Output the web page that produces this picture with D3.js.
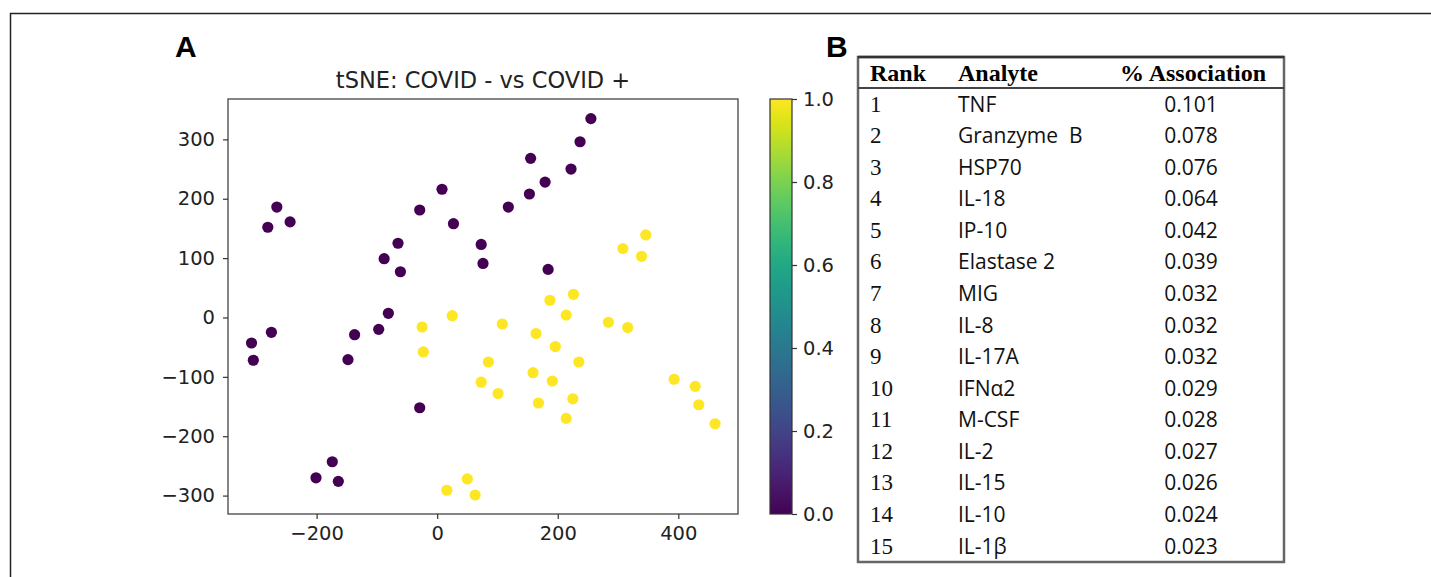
<!DOCTYPE html>
<html>
<head>
<meta charset="utf-8">
<script src="https://cdn.jsdelivr.net/npm/d3@7"></script>
<style>
  body { margin: 0; background: #fff; }
  svg { display: block; }
  .mpl { font-family: "DejaVu Sans", sans-serif; fill: #222; }
</style>
</head>
<body>
<svg id="fig" width="1431" height="577"></svg>
<script>
// tSNE coordinates
const covidNegX = [-266, -281, -244, -88, -65, -61, -29, 8, 27, 73, 76, 118,
  255, 237, 155, 222, 179, 153, 184,
  -308, -275, -305, -137, -97, -81, -148, -29, -174, -201, -164];
const covidNegY = [186, 152, 161, 99, 125, 77, 181, 216, 158, 123, 91, 186,
  335, 296, 268, 250, 228, 208, 81,
  -43, -25, -72, -29, -20, 7, -71, -152, -243, -270, -276];
const covidPosX = [346, 308, 339, 187, 226,
  -25, 25, -23, 108, 85, 73, 101, 50, 16, 63,
  214, 284, 316, 164, 196, 235, 159, 191, 225, 168, 214, 393, 428, 434, 461];
const covidPosY = [139, 116, 103, 29, 39,
  -16, 3, -58, -11, -75, -109, -128, -272, -291, -299,
  4, -8, -17, -27, -49, -75, -93, -107, -137, -144, -170, -104, -116, -147, -179];

const xTicks = [-200, 0, 200, 400];
const yTicks = [-300, -200, -100, 0, 100, 200, 300];
const cbarTicks = [0, 0.2, 0.4, 0.6, 0.8, 1.0];

const ranks = ['1', '2', '3', '4', '5', '6', '7', '8', '9', '10', '11', '12', '13', '14', '15'];
const analytes = ['TNF', 'Granzyme  B', 'HSP70', 'IL-18', 'IP-10', 'Elastase 2', 'MIG', 'IL-8',
  'IL-17A', 'IFNα2', 'M-CSF', 'IL-2', 'IL-15', 'IL-10', 'IL-1β'];
const association = ['0.101', '0.078', '0.076', '0.064', '0.042', '0.039', '0.032', '0.032',
  '0.032', '0.029', '0.028', '0.027', '0.026', '0.024', '0.023'];

const svg = d3.select('#fig');

// outer frame
svg.append('path')
  .attr('d', 'M10.5,577 V13.5 H1431')
  .attr('fill', 'none')
  .attr('stroke', '#222')
  .attr('stroke-width', 1.5);

// panel letters
svg.append('text').attr('x', 175).attr('y', 57)
  .style('font', 'bold 30px "Liberation Sans", Arial, sans-serif')
  .text('A');
svg.append('text').attr('x', 826).attr('y', 57)
  .style('font', 'bold 30px "Liberation Sans", Arial, sans-serif')
  .text('B');

// ---- panel A: scatter ----
const plot = { left: 228, right: 738, top: 99, bottom: 514 };

const x = d3.scaleLinear().domain([-347, 499]).range([plot.left, plot.right]);
const y = d3.scaleLinear().domain([-331, 368]).range([plot.bottom, plot.top]);
const color = d3.scaleSequential(d3.interpolateViridis).domain([0, 1]);

const points = covidNegX.map((d, i) => ({ x: d, y: covidNegY[i], label: 0 }))
  .concat(covidPosX.map((d, i) => ({ x: d, y: covidPosY[i], label: 1 })));

svg.append('g')
  .selectAll('circle')
  .data(points)
  .enter()
  .append('circle')
  .attr('cx', d => x(d.x))
  .attr('cy', d => y(d.y))
  .attr('r', 5.6)
  .attr('fill', d => color(d.label));

svg.append('rect')
  .attr('x', plot.left).attr('y', plot.top)
  .attr('width', plot.right - plot.left)
  .attr('height', plot.bottom - plot.top)
  .attr('fill', 'none')
  .attr('stroke', '#444')
  .attr('stroke-width', 1.3);

const styleAxis = g => {
  g.select('.domain').remove();
  g.selectAll('line').attr('stroke', '#333').attr('stroke-width', 1.2);
  g.selectAll('text')
    .style('font-family', '"DejaVu Sans", sans-serif')
    .style('font-size', '19.5px')
    .attr('fill', '#222');
};

svg.append('g')
  .attr('transform', `translate(0, ${plot.bottom})`)
  .call(d3.axisBottom(x).tickValues(xTicks).tickSize(5).tickPadding(7))
  .call(styleAxis);

svg.append('g')
  .attr('transform', `translate(${plot.left}, 0)`)
  .call(d3.axisLeft(y).tickValues(yTicks).tickSize(5).tickPadding(8))
  .call(styleAxis);

svg.append('text')
  .attr('class', 'mpl')
  .attr('x', (plot.left + plot.right) / 2)
  .attr('y', 88)
  .attr('text-anchor', 'middle')
  .style('font-size', '22.5px')
  .text('tSNE: COVID - vs COVID +');

// colorbar
const cb = { left: 770, width: 22 };
const cbY = d3.scaleLinear().domain([0, 1]).range([plot.bottom, plot.top]);

const grad = svg.append('defs').append('linearGradient')
  .attr('id', 'viridis')
  .attr('x1', 0).attr('y1', 1).attr('x2', 0).attr('y2', 0);
d3.range(0, 1.0001, 0.05).forEach(t => {
  grad.append('stop').attr('offset', t).attr('stop-color', color(t));
});

svg.append('rect')
  .attr('x', cb.left).attr('y', plot.top)
  .attr('width', cb.width).attr('height', plot.bottom - plot.top)
  .attr('fill', 'url(#viridis)')
  .attr('stroke', '#333')
  .attr('stroke-width', 1.2);

svg.append('g')
  .attr('transform', `translate(${cb.left + cb.width}, 0)`)
  .call(d3.axisRight(cbY).tickValues(cbarTicks).tickFormat(d3.format('.1f')).tickSize(5).tickPadding(6))
  .call(styleAxis);

// ---- panel B: table ----
const table = { left: 858, right: 1284, top: 57, head: 88, bottom: 562 };
const rowY = d3.scaleLinear().domain([0, 14]).range([104, 546]);

svg.append('rect')
  .attr('x', table.left).attr('y', table.top)
  .attr('width', table.right - table.left)
  .attr('height', table.bottom - table.top)
  .attr('fill', 'none')
  .attr('stroke', '#666')
  .attr('stroke-width', 2.5);
svg.append('line')
  .attr('x1', table.left).attr('x2', table.right)
  .attr('y1', table.top).attr('y2', table.top)
  .attr('stroke', '#333').attr('stroke-width', 2.5);
svg.append('line')
  .attr('x1', table.left).attr('x2', table.right)
  .attr('y1', table.head).attr('y2', table.head)
  .attr('stroke', '#444').attr('stroke-width', 2.2);

const headFont = 'bold 24px "Liberation Serif", "Times New Roman", serif';
svg.append('text').attr('x', 870).attr('y', 81).style('font', headFont).text('Rank');
svg.append('text').attr('x', 958).attr('y', 81).style('font', headFont).text('Analyte');
svg.append('text').attr('x', 1193).attr('y', 81).attr('text-anchor', 'middle')
  .style('font', headFont).text('% Association');

const rows = svg.append('g')
  .selectAll('g')
  .data(ranks)
  .enter()
  .append('g')
  .attr('transform', (d, i) => `translate(0, ${rowY(i) + 7.5})`);

rows.append('text')
  .attr('x', 870)
  .style('font', '23px "Liberation Serif", "Times New Roman", serif')
  .attr('fill', '#111')
  .text(d => d);

rows.append('text')
  .attr('x', 958)
  .style('font', '21px "Open Sans", sans-serif')
  .style('white-space', 'pre')
  .attr('fill', '#111')
  .text((d, i) => analytes[i]);

rows.append('text')
  .attr('x', 1191)
  .attr('text-anchor', 'middle')
  .style('font', '21px "Open Sans", sans-serif')
  .attr('fill', '#111')
  .text((d, i) => association[i]);
</script>
</body>
</html>
